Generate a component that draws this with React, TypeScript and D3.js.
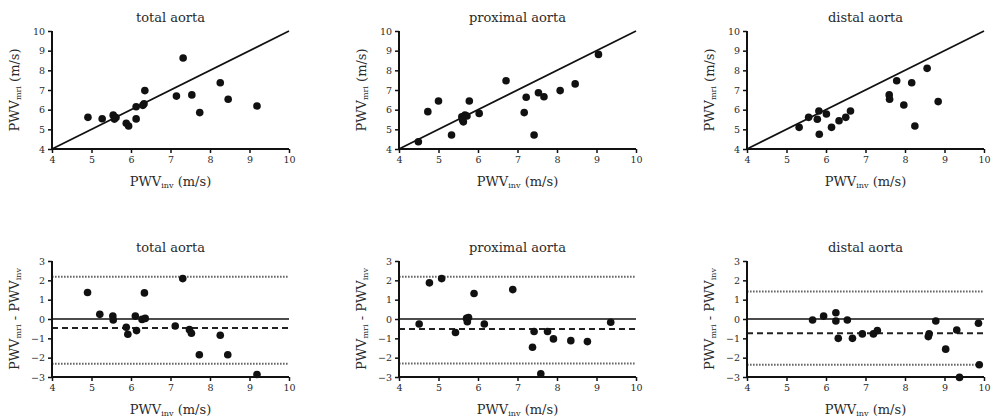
import { useEffect, useRef } from 'react';
import * as d3 from 'd3';

type Pt = [number, number];

// scatter: PWV_inv (x) vs PWV_mri (y)
const totalScatter: Pt[] = [
  [4.91, 5.61], [5.27, 5.54], [5.55, 5.72], [5.58, 5.52], [5.62, 5.6], [5.88, 5.31], [5.94, 5.17],
  [6.13, 6.15], [6.13, 5.53], [6.3, 6.22], [6.33, 6.3], [6.35, 6.97], [7.15, 6.69], [7.32, 8.63],
  [7.54, 6.75], [7.74, 5.85], [8.26, 7.37], [8.46, 6.53], [9.19, 6.19],
];
const proximalScatter: Pt[] = [
  [4.49, 4.37], [4.73, 5.9], [5.0, 6.44], [5.33, 4.71], [5.59, 5.64], [5.61, 5.47], [5.63, 5.38],
  [5.67, 5.73], [5.72, 5.68], [5.78, 6.44], [6.03, 5.81], [6.71, 7.47], [7.17, 5.85], [7.22, 6.63],
  [7.42, 4.71], [7.53, 6.86], [7.67, 6.66], [8.08, 6.97], [8.46, 7.31], [9.05, 8.81],
];
const distalScatter: Pt[] = [
  [5.32, 5.1], [5.56, 5.61], [5.78, 5.51], [5.82, 5.93], [5.83, 4.75], [6.01, 5.78], [6.14, 5.1],
  [6.33, 5.44], [6.5, 5.61], [6.62, 5.93], [7.6, 6.75], [7.61, 6.53], [7.79, 7.47], [7.97, 6.24],
  [8.17, 7.37], [8.25, 5.17], [8.56, 8.1], [8.84, 6.41],
];

// Bland-Altman: PWV_inv (x) vs difference (y)
const totalDiff: Pt[] = [
  [4.9, 1.37], [5.21, 0.24], [5.54, 0.15], [5.55, -0.05], [5.88, -0.43], [5.92, -0.79], [6.11, 0.15],
  [6.14, -0.6], [6.28, -0.02], [6.34, 1.35], [6.36, 0.03], [7.12, -0.36], [7.31, 2.09], [7.48, -0.55],
  [7.53, -0.74], [7.73, -1.85], [8.26, -0.84], [8.45, -1.85], [9.19, -2.87],
];
const proximalDiff: Pt[] = [
  [4.51, -0.26], [4.77, 1.87], [5.08, 2.09], [5.43, -0.7], [5.71, 0.03], [5.76, 0.08], [5.73, -0.14],
  [5.9, 1.32], [6.16, -0.26], [6.88, 1.52], [7.38, -1.46], [7.42, -0.65], [7.59, -2.83], [7.76, -0.65],
  [7.91, -1.03], [8.35, -1.12], [8.77, -1.17], [9.36, -0.17],
];
const distalDiff: Pt[] = [
  [5.66, -0.05], [5.94, 0.15], [6.25, 0.32], [6.25, -0.1], [6.31, -1.0], [6.54, -0.05], [6.67, -1.0],
  [6.92, -0.77], [7.2, -0.77], [7.3, -0.6], [8.59, -0.91], [8.61, -0.77], [8.78, -0.1], [9.03, -1.56],
  [9.31, -0.57], [9.38, -3.02], [9.86, -0.22], [9.88, -2.37],
];

// mean, upper and lower limits of agreement
const totalLimits = [-0.47, 2.18, -2.32];
const proximalLimits = [-0.52, 2.18, -2.3];
const distalLimits = [-0.74, 1.42, -2.36];

const titles = ['total aorta', 'proximal aorta', 'distal aorta'];
const xTicks = [4, 5, 6, 7, 8, 9, 10];
const scatterYTicks = [4, 5, 6, 7, 8, 9, 10];
const diffYTicks = [3, 2, 1, 0, -1, -2, -3];

const scatterSets = [totalScatter, proximalScatter, distalScatter];
const diffSets = [totalDiff, proximalDiff, distalDiff];
const limitSets = [totalLimits, proximalLimits, distalLimits];

const W = 994;
const H = 420;
const serif = '"DejaVu Serif", serif';
const ink = '#2a2a2a';

export default function App() {
  const svgRef = useRef<SVGSVGElement>(null);

  useEffect(() => {
    if (!svgRef.current) return;
    const svg = d3.select(svgRef.current);
    svg.selectAll('*').remove();

    const panelLeft = [52, 399, 747];
    const plotW = 237;

    const addSubLabel = (
      sel: d3.Selection<SVGTextElement, unknown, null, undefined>,
      parts: [string, boolean][]
    ) => {
      parts.forEach(([t, sub]) => {
        const ts = sel.append('tspan').text(t);
        if (sub) ts.attr('font-size', '0.62em').attr('dy', '0.3em');
        else ts.attr('dy', sel.selectAll('tspan').size() > 1 ? '-0.19em' : 0);
      });
    };

    const drawPanel = (
      i: number,
      top: number,
      plotH: number,
      yDomain: [number, number],
      yTicks: number[],
      yParts: [string, boolean][],
      data: Pt[],
      kind: 'scatter' | 'diff'
    ) => {
      const left = panelLeft[i];
      const x = d3.scaleLinear().domain([4, 10]).range([left, left + plotW]);
      const y = d3.scaleLinear().domain(yDomain).range([top + plotH, top]);
      const g = svg.append('g');

      // reference lines
      if (kind === 'scatter') {
        g.append('line')
          .attr('x1', x(4)).attr('y1', y(4)).attr('x2', x(10)).attr('y2', y(10))
          .attr('stroke', '#111').attr('stroke-width', 1.7);
      } else {
        const [mean, upper, lower] = limitSets[i];
        g.append('line')
          .attr('x1', x(4)).attr('x2', x(10)).attr('y1', y(0)).attr('y2', y(0))
          .attr('stroke', '#111').attr('stroke-width', 1.7);
        g.append('line')
          .attr('x1', x(4)).attr('x2', x(10)).attr('y1', y(mean)).attr('y2', y(mean))
          .attr('stroke', '#222').attr('stroke-width', 2).attr('stroke-dasharray', '6,4');
        [upper, lower].forEach(v => {
          g.append('line')
            .attr('x1', x(4)).attr('x2', x(10)).attr('y1', y(v)).attr('y2', y(v))
            .attr('stroke', '#666').attr('stroke-width', 2).attr('stroke-dasharray', '1.6,1.4');
        });
      }

      // axes
      const xAxis = g.append('g')
        .attr('transform', `translate(0,${top + plotH})`)
        .call(d3.axisBottom(x).tickValues(xTicks).tickSize(4).tickPadding(3).tickFormat(d3.format('d')));
      const yAxis = g.append('g')
        .attr('transform', `translate(${left},0)`)
        .call(d3.axisLeft(y).tickValues(yTicks).tickSize(4).tickPadding(3).tickFormat(d3.format('d')));
      [xAxis, yAxis].forEach(ax => {
        ax.select('.domain').attr('stroke', '#111').attr('stroke-width', 2);
        ax.selectAll('.tick line').attr('stroke', '#111').attr('stroke-width', 1.5);
        ax.selectAll('.tick text')
          .attr('fill', ink)
          .attr('font-family', serif)
          .attr('font-size', 9.5);
      });
      xAxis.select('.domain').attr('d', `M${left},0H${left + plotW}`);
      yAxis.select('.domain').attr('d', `M0,${top}V${top + plotH}`);

      // points
      g.selectAll('circle.pt')
        .data(data)
        .join('circle')
        .attr('class', 'pt')
        .attr('cx', d => x(d[0]))
        .attr('cy', d => y(d[1]))
        .attr('r', 3.8)
        .attr('fill', '#111');

      // title
      g.append('text')
        .attr('x', left + plotW / 2)
        .attr('y', top - 9)
        .attr('text-anchor', 'middle')
        .attr('font-family', serif)
        .attr('font-size', 13)
        .attr('fill', ink)
        .text(titles[i]);

      // x label
      const xl = g.append('text')
        .attr('x', left + plotW / 2)
        .attr('y', top + plotH + 37)
        .attr('text-anchor', 'middle')
        .attr('font-family', serif)
        .attr('font-size', 13)
        .attr('fill', ink);
      addSubLabel(xl, [['PWV', false], ['inv', true], [' (m/s)', false]]);

      // y label
      const yl = g.append('text')
        .attr('transform', `translate(${left - 33},${top + plotH / 2}) rotate(-90)`)
        .attr('text-anchor', 'middle')
        .attr('font-family', serif)
        .attr('font-size', 13)
        .attr('fill', ink);
      addSubLabel(yl, yParts);
    };

    titles.forEach((_, i) => {
      drawPanel(i, 31, 118, [4, 10], scatterYTicks,
        [['PWV', false], ['mri', true], [' (m/s)', false]], scatterSets[i], 'scatter');
      drawPanel(i, 261, 116, [-3, 3], diffYTicks,
        [['PWV', false], ['mri', true], [' - PWV', false], ['inv', true]], diffSets[i], 'diff');
    });
  }, []);

  return (
    <>
      <style>{'body{margin:0;background:#fff}'}</style>
      <svg ref={svgRef} width={W} height={H} style={{ display: 'block' }} />
    </>
  );
}
